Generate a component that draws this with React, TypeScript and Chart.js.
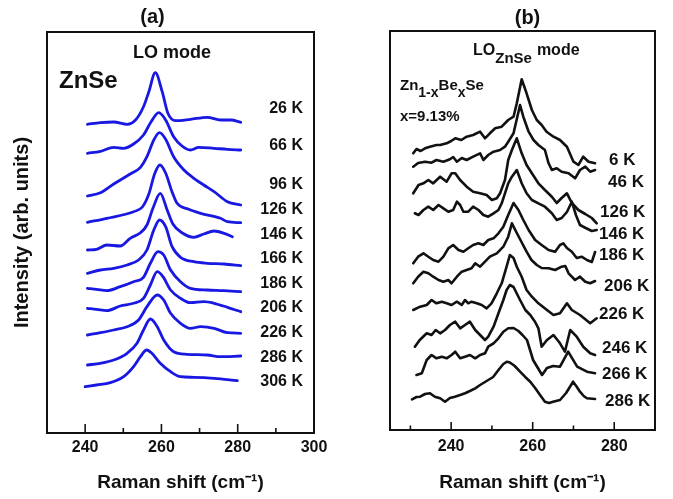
import React, { useEffect, useRef } from 'react';
import { Chart, registerables } from 'chart.js';
Chart.register(...registerables);

// ---------- Panel (a): ZnSe, LO mode ----------
const tempsA = ['26 K', '66 K', '96 K', '126 K', '146 K', '166 K', '186 K', '206 K', '226 K', '286 K', '306 K'];
const a26x = [240.6, 244.0, 247.5, 251.0, 253.2, 255.3, 256.7, 258.4, 260.2, 261.7, 263.7, 267.6, 272.0, 275.5, 278.2, 280.8];
const a26y = [308.7, 310.3, 311, 308.7, 313, 326.3, 341.3, 360.3, 341.3, 319.7, 312.3, 313.7, 315.7, 313, 313, 310.7];
const a66x = [240.6, 244.0, 247.5, 250.1, 252.7, 255.3, 257.3, 259.3, 261.1, 263.2, 265.4, 267.6, 269.8, 273.8, 277.3, 280.8];
const a66y = [279.7, 281.7, 285.7, 284.7, 289, 298, 311.3, 320.3, 313, 296.3, 287, 283, 285.7, 284.7, 283.7, 283];
const a96x = [240.6, 244.0, 247.5, 251.8, 254.5, 256.2, 258.0, 259.5, 261.1, 263.2, 265.9, 268.5, 271.1, 273.8, 277.3, 280.8];
const a96y = [237, 240.3, 249, 259, 265.7, 276.3, 293, 300.3, 293.7, 276.3, 263, 254.7, 248, 241.3, 231.3, 228];
const a126x = [240.6, 245.7, 252.7, 255.0, 256.7, 258.2, 259.6, 261.1, 262.8, 264.1, 267.0, 270.3, 275.5, 277.3, 280.8];
const a126y = [210.7, 214.7, 221.3, 226, 239, 259, 268, 260, 241, 229.7, 224, 219.7, 214.7, 211.3, 210.3];
const a146x = [240.6, 243.0, 245.7, 249.2, 251.8, 254.5, 256.2, 257.8, 259.7, 261.5, 263.0, 265.5, 268.5, 271.1, 273.8, 276.4, 278.6];
const a146y = [183, 183.7, 188, 187, 194.7, 200.3, 208, 225, 239.7, 223, 209, 200, 195.7, 199, 202, 199.7, 196.3];
const a166x = [240.6, 244.0, 247.5, 251.0, 254.0, 256.2, 258.0, 259.5, 261.1, 262.8, 265.0, 268.5, 272.0, 276.4, 280.8];
const a166y = [159.7, 163, 164.7, 168, 173, 183, 203, 213, 206.3, 186.3, 175.7, 171.3, 169.7, 169, 167.3];
const a186x = [240.6, 243.0, 245.7, 249.2, 252.7, 255.3, 257.1, 259.1, 260.6, 262.4, 265.0, 267.6, 272.0, 276.4, 280.8];
const a186y = [144.7, 143.7, 142.3, 146.3, 151.3, 155.7, 169.7, 181.3, 178, 163, 151.3, 144.7, 143, 142.3, 141.3];
const a206x = [240.6, 243.0, 245.7, 249.2, 252.7, 255.3, 257.1, 258.9, 260.4, 262.4, 265.0, 267.6, 271.1, 273.8, 277.3, 280.8];
const a206y = [124.7, 123.7, 122.3, 127, 129.7, 134.7, 148, 161.3, 156.3, 143, 134.7, 130.3, 131.3, 129.7, 125.7, 121.3];
const a226x = [240.6, 244.0, 247.5, 251.0, 254.0, 256.2, 258.9, 260.6, 262.4, 265.0, 267.6, 270.3, 273.8, 277.3, 280.8];
const a226y = [98, 100.3, 103, 106.3, 113, 126.3, 138, 133, 119.7, 109.7, 104.7, 106.3, 104.7, 100.3, 99.7];
const a286x = [240.6, 244.0, 247.5, 251.0, 253.6, 255.3, 257.1, 258.9, 260.6, 263.2, 266.7, 272.0, 275.5, 280.8];
const a286y = [68, 69.7, 73, 79.7, 89.7, 103, 114, 106.3, 93, 81.3, 78.7, 78, 76.3, 77];
const a306x = [240.0, 243.0, 246.6, 250.1, 252.7, 254.5, 256.1, 257.5, 259.7, 262.4, 265.0, 268.5, 273.8, 279.9];
const a306y = [46.3, 48, 50.3, 56.3, 66.3, 76.3, 83, 79.7, 69.7, 61.3, 56.3, 55.7, 54.7, 52.3];
const seriesA = [[a26x, a26y], [a66x, a66y], [a96x, a96y], [a126x, a126y], [a146x, a146y], [a166x, a166y],
  [a186x, a186y], [a206x, a206y], [a226x, a226y], [a286x, a286y], [a306x, a306y]];
const ticksA = [240, 260, 280, 300];
const minorA = [250, 270, 290];

// ---------- Panel (b): Zn1-xBexSe, LO(ZnSe) mode ----------
const tempsB = ['6 K', '46 K', '126 K', '146 K', '186 K', '206 K', '226 K', '246 K', '266 K', '286 K'];
const b6x = [230.7, 231.5, 232.5, 233.6, 234.8, 236.4, 237.3, 238.9, 240.0, 241.0, 242.5, 243.8, 245.4, 247.1, 248.3, 249.5, 250.8, 252.4, 254.0, 255.3, 256.1, 257.3, 258.5, 259.8, 261.0, 262.2, 263.4, 265.1, 266.7, 268.4, 270.0, 271.2, 272.4, 273.7, 275.3];
const b6y = [276.7, 281, 279, 281.7, 283.3, 285, 285, 286.7, 289, 291.7, 290, 293.3, 295, 298.3, 291.7, 296.7, 301.7, 303.3, 310, 313.3, 326.7, 350.7, 336.7, 320, 310, 305, 298.3, 293.3, 290, 283.3, 268.3, 265, 273.3, 268.3, 266.7];
const b46x = [230.7, 231.9, 233.6, 235.2, 236.4, 238.1, 239.7, 240.5, 241.4, 242.6, 243.8, 245.4, 247.1, 247.9, 249.1, 250.4, 252.0, 253.2, 254.0, 255.3, 256.9, 257.7, 259.0, 260.2, 261.4, 263.0, 263.9, 264.7, 265.9, 267.1, 268.8, 270.4, 271.6, 272.9, 274.1, 275.3];
const b46y = [263.3, 267, 268.3, 267.3, 270, 268.3, 270.7, 273, 268.3, 272, 270, 273.3, 276.7, 270, 275, 278.3, 280, 283.3, 288.3, 296.7, 325, 313.3, 298.3, 290, 285, 280, 266.7, 260, 261.7, 258.3, 256.7, 251.7, 260, 263.3, 258.3, 260];
const b126x = [230.7, 232.0, 233.2, 234.4, 235.6, 237.3, 238.9, 240.1, 241.0, 242.2, 243.8, 245.4, 247.1, 248.7, 250.0, 251.2, 252.0, 253.2, 254.0, 254.9, 256.1, 257.3, 258.5, 259.8, 261.4, 263.0, 264.7, 265.9, 267.1, 268.4, 269.6, 271.2, 272.9, 274.5, 275.7];
const b126y = [236.7, 245, 246.7, 250, 246.7, 253.3, 248.3, 256.7, 256.7, 250, 243.3, 238.3, 236.7, 235, 230, 231.7, 236.7, 250, 270, 280, 291.7, 276.7, 265, 256.7, 246.7, 240, 233.3, 227, 232, 236.7, 227, 220, 216, 212, 206.7];
const b146x = [231.1, 232.0, 233.2, 234.4, 235.6, 236.9, 238.1, 239.3, 240.5, 241.4, 242.2, 243.0, 244.2, 245.4, 246.7, 247.9, 249.1, 250.4, 251.6, 252.4, 253.2, 254.0, 254.9, 256.1, 257.3, 258.5, 259.8, 261.4, 263.0, 264.7, 265.9, 267.1, 268.4, 269.6, 270.6, 271.6, 273.0, 274.5, 275.7];
const b146y = [216.7, 215, 220, 223.3, 220, 225, 221.7, 218.3, 220, 228.3, 225, 218.3, 218.3, 223.3, 220, 215, 213.3, 216.7, 220, 226.7, 236.7, 246.7, 253.3, 260, 246.7, 236.7, 230, 226.7, 223.3, 216.7, 210, 212, 218, 228.3, 215, 205, 202, 199, 200];
const b186x = [230.7, 231.9, 233.2, 234.4, 235.6, 236.9, 238.1, 239.3, 240.5, 241.8, 243.0, 244.2, 245.4, 246.7, 247.9, 249.1, 250.4, 251.6, 252.8, 254.0, 255.3, 256.5, 257.7, 259.0, 260.6, 262.2, 263.9, 265.5, 266.7, 267.5, 268.4, 269.6, 270.8, 272.0, 273.3, 274.5, 275.3];
const b186y = [166.7, 173.3, 176.7, 173.3, 170, 168.3, 173.3, 181.7, 185, 180, 178.3, 181.7, 185, 186.7, 185, 190, 191.7, 196.7, 203.3, 215, 227, 220, 210, 200, 190, 185, 180, 178.3, 185, 186.7, 182, 178.3, 172, 173.3, 170, 168, 178];
const b206x = [230.7, 231.9, 233.2, 234.4, 235.6, 236.9, 238.1, 239.3, 240.1, 241.4, 242.6, 243.8, 245.0, 245.9, 247.1, 248.3, 249.5, 251.2, 252.8, 254.0, 254.9, 256.1, 257.0, 258.5, 259.7, 261.0, 262.2, 263.9, 265.5, 267.1, 268.0, 268.8, 270.4, 271.6, 272.9, 274.1, 275.3];
const b206y = [146.7, 153.3, 158.3, 156.7, 153.3, 150, 148.3, 150, 146.7, 153.3, 158.3, 160, 161.7, 166.7, 163.3, 168.3, 173.3, 176.7, 183.3, 193.3, 206.7, 197, 190, 178.3, 170, 165, 162, 161.7, 160, 163.3, 164, 156.7, 150, 153.3, 148.3, 146.7, 149];
const b226x = [230.7, 232.4, 234.0, 235.2, 236.4, 237.7, 238.9, 240.1, 241.4, 242.6, 243.4, 244.2, 245.0, 246.3, 247.5, 248.7, 249.9, 251.2, 252.4, 253.6, 254.4, 255.3, 256.1, 257.3, 258.5, 259.8, 261.4, 263.5, 265.1, 266.7, 268.4, 269.6, 271.6, 274.1, 275.7];
const b226y = [120, 123.3, 125, 130, 126.7, 128.3, 126.7, 125, 128.3, 125, 130, 126.7, 128.3, 126.7, 125, 121.7, 126.7, 136.7, 146.7, 163.3, 175, 172, 163.3, 153.3, 140, 133.3, 126.7, 120, 115, 116.7, 126.7, 120, 115, 106.7, 111.7];
const b246x = [231.1, 232.3, 234.0, 235.2, 236.2, 237.3, 238.5, 239.7, 241.0, 242.2, 243.4, 244.6, 245.9, 247.1, 248.3, 249.1, 250.4, 251.6, 252.8, 253.6, 254.4, 255.3, 256.9, 258.2, 259.4, 260.6, 261.4, 262.2, 263.5, 265.1, 266.7, 267.9, 269.2, 270.8, 272.4, 274.1, 275.3];
const b246y = [83.3, 90, 96.7, 95, 100, 96.7, 100, 105, 108.3, 101.7, 105, 108.3, 100, 95, 90, 93.3, 103.3, 116.7, 130, 140, 145, 143, 130, 120, 115, 108, 101.7, 83.3, 90, 95, 86.7, 78.3, 100, 93.3, 83.3, 76.7, 75];
const b266x = [231.5, 232.8, 234.0, 235.2, 236.4, 237.7, 238.9, 240.1, 241.0, 242.2, 243.4, 244.6, 245.9, 247.1, 248.3, 249.1, 250.4, 251.6, 252.8, 254.0, 255.3, 256.5, 257.5, 258.6, 260.1, 262.3, 263.5, 265.0, 266.7, 268.7, 270.9, 273.3, 275.3];
const b266y = [55, 56.7, 70, 75, 71.7, 73.3, 71.7, 75, 78.3, 71.7, 73.3, 75, 71.7, 75, 76.7, 83.3, 86.7, 91.7, 98.3, 101.7, 102, 99, 95, 90, 70, 55, 62, 64, 63.3, 78.3, 63.3, 58.3, 56.7];
const b286x = [230.4, 231.5, 232.4, 233.6, 234.8, 236.0, 237.3, 238.5, 239.7, 240.9, 242.2, 243.4, 244.6, 245.9, 247.1, 248.7, 250.3, 251.6, 252.8, 253.7, 254.4, 255.6, 256.9, 258.1, 259.4, 260.6, 261.8, 263.0, 264.0, 265.0, 266.7, 268.2, 269.9, 270.8, 271.6, 272.5, 273.3, 275.3];
const b286y = [30.7, 33, 33.3, 36, 36.7, 33.3, 31.7, 28.3, 32, 33.3, 35, 36.7, 39, 41.7, 45, 49, 53, 60, 66, 68.3, 67.5, 64, 58.3, 53.3, 48.3, 42, 35, 28.3, 27, 28.3, 30, 37, 48.3, 43.3, 38.3, 34, 31.7, 31];
const seriesB = [[b6x, b6y], [b46x, b46y], [b126x, b126y], [b146x, b146y], [b186x, b186y], [b206x, b206y],
  [b226x, b226y], [b246x, b246y], [b266x, b266y], [b286x, b286y]];
const ticksB = [240, 260, 280];
const minorB = [230, 250, 270];

// ---------- layout / style ----------
const FONT = "'Liberation Sans', Arial, Helvetica, sans-serif";
const INK = '#111111';
const BLUE = '#1818e2';
const W = 673, H = 499, SPLIT = 340;

// a text run: consecutive segments, each with its own size and vertical shift (for subscripts)
type Seg = { t: string; size: number; dy?: number; gap?: number };
type TextItem = { segs: Seg[]; x: number; y: number; align?: CanvasTextAlign };
const one = (t: string, x: number, y: number, size: number, align?: CanvasTextAlign): TextItem =>
  ({ segs: [{ t, size }], x, y, align });

const labelCentersA = [107, 144.5, 183, 208.5, 233, 257.5, 282, 306.5, 331, 356, 380.5];
const labelCentersB = [159, 181, 211, 233, 254, 285, 313, 347, 373, 400];
const labelLeftB = [609, 608, 600, 599, 599, 604, 599, 602, 602, 605];

const textsA: TextItem[] = [
  one('(a)', 152.5, 23, 20, 'center'),
  one('LO mode', 172, 58, 18, 'center'),
  one('ZnSe', 59, 88, 24),
  ...tempsA.map((t, i) => one(t, 303, labelCentersA[i] + 5.7, 16, 'right')),
];
const textsB: TextItem[] = [
  one('(b)', 527.5, 24, 20, 'center'),
  { segs: [{ t: 'LO', size: 16 }, { t: 'ZnSe', size: 15, dy: 8 }, { t: 'mode', size: 16, gap: 5 }], x: 473, y: 55 },
  { segs: [{ t: 'Zn', size: 15 }, { t: '1-x', size: 14, dy: 7 }, { t: 'Be', size: 15 }, { t: 'x', size: 14, dy: 7 }, { t: 'Se', size: 15 }], x: 400, y: 90 },
  one('x=9.13%', 400, 121, 15),
  ...tempsB.map((t, i) => one(t, labelLeftB[i], labelCentersB[i] + 6, 17)),
];

function framePlugin(majors: number[], minors: number[], majorLen: number, minorLen: number, texts: TextItem[], offsetX: number) {
  return {
    id: 'frame',
    afterDraw(chart: any) {
      const { ctx, chartArea: ca, scales } = chart;
      ctx.save();
      ctx.strokeStyle = INK;
      ctx.lineWidth = 2;
      ctx.strokeRect(ca.left, ca.top, ca.right - ca.left, ca.bottom - ca.top);
      ctx.lineWidth = 1.6;
      const drawTick = (v: number, len: number) => {
        const x = scales.x.getPixelForValue(v);
        ctx.beginPath();
        ctx.moveTo(x, ca.bottom);
        ctx.lineTo(x, ca.bottom - len);
        ctx.stroke();
      };
      majors.forEach(v => drawTick(v, majorLen));
      minors.forEach(v => drawTick(v, minorLen));
      ctx.fillStyle = INK;
      ctx.textBaseline = 'alphabetic';
      texts.forEach(it => {
        if (it.segs.length === 1) {
          const s = it.segs[0];
          ctx.font = `bold ${s.size}px ${FONT}`;
          ctx.textAlign = it.align || 'left';
          ctx.fillText(s.t, it.x - offsetX, it.y);
          return;
        }
        ctx.textAlign = 'left';
        let x = it.x - offsetX;
        it.segs.forEach(s => {
          ctx.font = `bold ${s.size}px ${FONT}`;
          x += s.gap || 0;
          ctx.fillText(s.t, x, it.y + (s.dy || 0));
          x += ctx.measureText(s.t).width;
        });
      });
      ctx.restore();
    },
  };
}

function makeDatasets(series: number[][][], color: string, width: number, smooth: boolean) {
  return series.map(([xs, ys]) => ({
    data: xs.map((x, i) => ({ x, y: ys[i] })),
    borderColor: color,
    borderWidth: width,
    pointRadius: 0,
    fill: false,
    borderJoinStyle: 'round' as const,
    borderCapStyle: 'round' as const,
    tension: smooth ? 0.4 : 0,
    cubicInterpolationMode: smooth ? ('monotone' as const) : ('default' as const),
  }));
}

function makeConfig(opts: {
  series: number[][][]; color: string; width: number; smooth: boolean;
  xmin: number; xmax: number; ymax: number; ticks: number[]; minors: number[];
  majorLen: number; minorLen: number; texts: TextItem[]; offsetX: number;
  padRight: number; padTop: number; yWidth: number; xHeight: number; tickPad: number; yTitle?: string;
}): any {
  return {
    type: 'line',
    data: { datasets: makeDatasets(opts.series, opts.color, opts.width, opts.smooth) },
    options: {
      responsive: false,
      animation: false,
      events: [],
      layout: { padding: { left: 0, right: opts.padRight, top: opts.padTop, bottom: 0 } },
      plugins: { legend: { display: false }, tooltip: { enabled: false }, title: { display: false } },
      scales: {
        x: {
          type: 'linear',
          min: opts.xmin,
          max: opts.xmax,
          afterBuildTicks: (s: any) => { s.ticks = opts.ticks.map(v => ({ value: v })); },
          grid: { display: false, drawTicks: false },
          border: { display: false },
          ticks: { color: INK, font: { family: FONT, size: 16, weight: 'bold' }, padding: opts.tickPad, maxRotation: 0, autoSkip: false },
          title: { display: true, text: 'Raman shift (cm⁻¹)', color: INK, font: { family: FONT, size: 19, weight: 'bold' }, padding: { top: 0, bottom: 4.6 } },
          afterFit: (s: any) => { s.height = opts.xHeight; },
        },
        y: {
          type: 'linear',
          min: 0,
          max: opts.ymax,
          ticks: { display: false },
          grid: { display: false, drawTicks: false },
          border: { display: false },
          title: opts.yTitle
            ? { display: true, text: opts.yTitle, color: INK, font: { family: FONT, size: 20, weight: 'bold' }, padding: { top: 10, bottom: 0 } }
            : { display: false },
          afterFit: (s: any) => { s.width = opts.yWidth; },
        },
      },
    },
    plugins: [framePlugin(opts.ticks.filter(v => v < opts.xmax), opts.minors, opts.majorLen, opts.minorLen, opts.texts, opts.offsetX)],
  };
}

export default function App() {
  const refA = useRef<HTMLCanvasElement>(null);
  const refB = useRef<HTMLCanvasElement>(null);
  useEffect(() => {
    const chartA = new Chart(refA.current as HTMLCanvasElement, makeConfig({
      series: seriesA, color: BLUE, width: 2.8, smooth: true,
      xmin: 230, xmax: 300, ymax: 401, ticks: ticksA, minors: minorA,
      majorLen: 9, minorLen: 5, texts: textsA, offsetX: 0,
      padRight: 26, padTop: 32, yWidth: 47, xHeight: H - 433, tickPad: 5,
      yTitle: 'Intensity (arb. units)',
    }));
    const chartB = new Chart(refB.current as HTMLCanvasElement, makeConfig({
      series: seriesB, color: INK, width: 2.6, smooth: false,
      xmin: 225, xmax: 290, ymax: 399, ticks: ticksB, minors: minorB,
      majorLen: 8, minorLen: 4.5, texts: textsB, offsetX: SPLIT,
      padRight: W - SPLIT - 315, padTop: 31, yWidth: 50, xHeight: H - 430, tickPad: 7,
    }));
    return () => { chartA.destroy(); chartB.destroy(); };
  }, []);
  return (
    <div style={{ position: 'absolute', left: 0, top: 0, width: W, height: H, background: '#ffffff' }}>
      <canvas ref={refA} width={SPLIT} height={H} style={{ position: 'absolute', left: 0, top: 0 }} />
      <canvas ref={refB} width={W - SPLIT} height={H} style={{ position: 'absolute', left: SPLIT, top: 0 }} />
    </div>
  );
}
